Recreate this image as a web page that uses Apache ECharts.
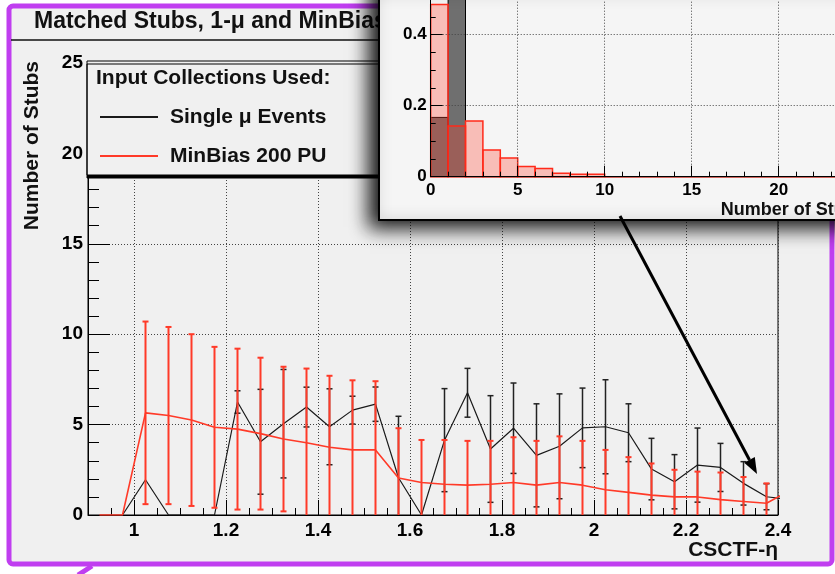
<!DOCTYPE html>
<html><head><meta charset="utf-8">
<script src="https://cdn.jsdelivr.net/npm/echarts@6/dist/echarts.min.js"></script>
<style>html,body{margin:0;padding:0;background:#fff}#c{width:835px;height:574px}</style>
</head><body><div id="c"></div><script>
// ---- main panel data (CSCTF eta bins, width 0.05) ----
const etaCenters = [0.925,0.975,1.025,1.075,1.125,1.175,1.225,1.275,1.325,1.375,1.425,1.475,1.525,1.575,1.625,1.675,1.725,1.775,1.825,1.875,1.925,1.975,2.025,2.075,2.125,2.175,2.225,2.275,2.325,2.375,2.425];
const singleMu    = [null,0,1.95,0,0,0,6.25,4.05,5.05,5.97,4.88,5.8,6.13,2.06,0,4.14,6.76,3.65,4.8,3.3,3.8,4.82,4.88,4.55,2.54,1.84,2.76,2.63,1.75,1.01,0.85];
const singleMuErr = [0,0,0,0,0,0,0.62,2.9,3.0,1.1,2.1,0.77,0.95,3.4,0,2.85,1.35,2.95,2.5,2.85,2.9,2.2,2.6,1.6,1.7,1.5,2.05,1.33,1.2,0.72,0];
const minBias     = [0,0,5.65,5.5,5.25,4.85,4.75,4.5,4.2,4.0,3.75,3.6,3.6,2.05,1.8,1.7,1.65,1.7,1.8,1.65,1.8,1.65,1.4,1.25,1.1,1.0,1.0,0.85,0.75,0.65,1.35];
const minBiasErr  = [0,0,5.05,4.9,4.75,4.45,4.45,4.2,4.0,4.1,3.95,3.85,3.8,2.75,2.35,2.45,2.45,2.4,2.5,2.45,2.55,2.45,2.2,1.95,1.75,1.5,1.4,1.5,1.35,1.1,0];
const etaTickLabels = [1,1.2,1.4,1.6,1.8,2.0,2.2,2.4];
const seriesNames = ['Single \u03bc Events','MinBias 200 PU'];

// ---- inset data (number of stubs, normalised) ----
const stubBinLow  = [0,1,2,3,4,5,6,7,8,9,10,11,12,13,14,15,16,17,18,19,20,21,22,23,24];
const stubBinHigh = [1,2,3,4,5,6,7,8,9,10,11,12,13,14,15,16,17,18,19,20,21,22,23,24,25];
const stubsMinBias  = [0.485,0.143,0.157,0.075,0.053,0.029,0.023,0.010,0.007,0.007,0,0,0,0,0,0,0,0,0,0,0,0,0,0,0];
const stubsSingleMu = [0.167,0.833,0,0,0,0,0,0,0,0,0,0,0,0,0,0,0,0,0,0,0,0,0,0,0];

const FONT = '"Liberation Sans", Arial, Helvetica, sans-serif';
const Y_MIN = 0, Y_MAX = 25;
const RED = '#ff3a28', BLACK = '#1a1a1a';

function errRender(color, w) {
  return function (params, api) {
    const x = api.value(0), v = api.value(1), e = api.value(2);
    const kids = [];
    if (e > 0 && v != null && !isNaN(v)) {
      const lo = Math.max(Y_MIN, v - e), hi = Math.min(Y_MAX, v + e);
      const pLo = api.coord([x, lo]), pHi = api.coord([x, hi]);
      const st = {stroke: color, lineWidth: w};
      kids.push({type:'line', shape:{x1:pLo[0],y1:pLo[1],x2:pHi[0],y2:pHi[1]}, style:st});
      if (v + e <= Y_MAX) kids.push({type:'line', shape:{x1:pHi[0]-3,y1:pHi[1],x2:pHi[0]+3,y2:pHi[1]}, style:st});
      if (v - e >= Y_MIN) kids.push({type:'line', shape:{x1:pLo[0]-3,y1:pLo[1],x2:pLo[0]+3,y2:pLo[1]}, style:st});
    }
    return {type:'group', children:kids};
  };
}
function histRender(fill, stroke, lw) {
  return function (params, api) {
    const p0 = api.coord([api.value(0), 0]);
    const p1 = api.coord([api.value(1), api.value(2)]);
    return {type:'rect', shape:{x:p0[0], y:p1[1], width:p1[0]-p0[0], height:p0[1]-p1[1]},
            style:{fill:fill, stroke:stroke, lineWidth:lw}};
  };
}
const mk = (xs, ys) => xs.map((x,i) => [x, ys[i]]);
const mkE = (xs, ys, es) => xs.map((x,i) => [x, ys[i], es[i]]);
const mkH = (vals) => stubBinLow.map((lo,i) => [lo, stubBinHigh[i], vals[i]]);

const chart = echarts.init(document.getElementById('c'), null, {renderer:'canvas'});
const tickLbl = {color:'#000', fontFamily:FONT, fontWeight:'bold', fontSize:19};
const dotted = {show:true, lineStyle:{color:'#444', type:[1,2], width:1}};

chart.setOption({
  animation:false,
  backgroundColor:'#fff',
  title:[
    {text:'Matched Stubs, 1-\u03bc and MinBias 200 PU', left:34, top:10, padding:0,
     textStyle:{fontFamily:FONT, fontWeight:'bold', fontSize:23, color:'#111'}},
    {text:'Input Collections Used:', left:96, top:68, padding:0,
     textStyle:{fontFamily:FONT, fontWeight:'bold', fontSize:21, color:'#111'}}
  ],
  legend:{
    data:seriesNames, orient:'vertical', left:87, top:61,
    padding:[44,230,7,13], itemGap:15, itemWidth:58, itemHeight:2, icon:'rect',
    backgroundColor:'#f0f0f0', borderColor:'#000', borderWidth:1,
    shadowColor:'#000', shadowBlur:0, shadowOffsetX:0, shadowOffsetY:3,
    textStyle:{fontFamily:FONT, fontWeight:'bold', fontSize:21, color:'#111', lineHeight:24, padding:[0,0,0,7]},
    selectedMode:false
  },
  grid:[
    {left:88, right:57, top:63, bottom:59, show:true, borderColor:'#000', borderWidth:1, backgroundColor:'transparent', outerBoundsMode:'none'},
    {left:430.7, right:-30.7, top:-178.3, bottom:397.3, show:false, outerBoundsMode:'none'}
  ],
  xAxis:[
    {type:'value', gridIndex:0, position:'bottom', min:0.9, max:2.4,
     name:'CSCTF-\u03b7', nameLocation:'end', nameGap:0, nameMoveOverlap:false,
     nameTextStyle:{fontFamily:FONT, fontWeight:'bold', fontSize:21, color:'#111', align:'right', verticalAlign:'top', padding:[25,0,0,0]},
     axisLine:{show:true, lineStyle:{color:'#000', width:1}},
     axisTick:{show:true, inside:true, length:15, customValues:etaTickLabels, lineStyle:{color:'#000'}},
     axisLabel:{...tickLbl, margin:6, customValues:etaTickLabels},
     splitLine:dotted, minorTick:{show:false}},
    {type:'value', gridIndex:0, position:'bottom', min:0.9, max:2.4, interval:0.05,
     axisLine:{show:false}, axisLabel:{show:false}, splitLine:{show:false},
     axisTick:{show:true, inside:true, length:7, lineStyle:{color:'#000'}}},
    {type:'value', gridIndex:1, position:'bottom', min:0, max:25, interval:5, z:24,
     name:'Number of Stubs', nameLocation:'end', nameGap:0, nameMoveOverlap:false,
     nameTextStyle:{fontFamily:FONT, fontWeight:'bold', fontSize:18, color:'#111', align:'right', verticalAlign:'top', padding:[24,0,0,0]},
     axisLine:{show:true, lineStyle:{color:'#000'}},
     axisTick:{show:true, inside:true, length:11, lineStyle:{color:'#000'}},
     minorTick:{show:true, splitNumber:5, length:5, lineStyle:{color:'#000'}},
     axisLabel:{...tickLbl, fontSize:17, margin:5},
     splitLine:dotted}
  ],
  yAxis:[
    {type:'value', gridIndex:0, min:0, max:25, interval:5,
     name:'Number of Stubs', nameLocation:'end', nameRotate:90, nameGap:2, nameMoveOverlap:false,
     nameTextStyle:{fontFamily:FONT, fontWeight:'bold', fontSize:21, color:'#111', align:'right', verticalAlign:'bottom', padding:[0,0,45,0]},
     axisLine:{show:true, lineStyle:{color:'#000'}},
     axisTick:{show:true, inside:true, length:22, lineStyle:{color:'#000'}},
     minorTick:{show:true, splitNumber:5, length:11, lineStyle:{color:'#000'}},
     axisLabel:{...tickLbl, margin:5},
     splitLine:dotted},
    {type:'value', gridIndex:1, min:0, max:1, interval:0.2, z:24,
     axisLine:{show:true, lineStyle:{color:'#000'}},
     axisTick:{show:true, inside:true, length:12, lineStyle:{color:'#000'}},
     minorTick:{show:true, splitNumber:4, length:5, lineStyle:{color:'#000'}},
     axisLabel:{...tickLbl, fontSize:17, margin:4},
     splitLine:dotted}
  ],
  graphic:[
    {type:'rect', z:-1, silent:true, shape:{x:9, y:6, width:823, height:558, r:4},
     style:{fill:'#f0f0f0', stroke:'#c03ef0', lineWidth:5}},
    {type:'line', z:1, silent:true, shape:{x1:11, y1:40, x2:420, y2:40}, style:{stroke:'#111', lineWidth:1.5}},
    {type:'line', z:1, silent:true, shape:{x1:78, y1:575, x2:92, y2:566}, style:{stroke:'#c03ef0', lineWidth:5}},
    {type:'rect', z:20, silent:true, shape:{x:379, y:-20, width:520, height:240},
     style:{fill:'#f5f5f5', stroke:'#000', lineWidth:2, shadowBlur:18, shadowColor:'rgba(0,0,0,0.95)', shadowOffsetX:-9, shadowOffsetY:7}},
    {type:'line', z:30, silent:true, shape:{x1:620, y1:216, x2:749.5, y2:460}, style:{stroke:'#000', lineWidth:3}},
    {type:'polygon', z:30, silent:true, shape:{points:[[757,474],[744.2,462.7],[754.8,457.1]]}, style:{fill:'#000'}}
  ],
  series:[
    {name:seriesNames[0], type:'line', xAxisIndex:0, yAxisIndex:0, z:2, data:mk(etaCenters, singleMu),
     showSymbol:false, symbol:'none', itemStyle:{color:BLACK}, lineStyle:{color:BLACK, width:1.2}},
    {name:'Single \u03bc errors', type:'custom', xAxisIndex:0, yAxisIndex:0, z:2,
     data:mkE(etaCenters, singleMu, singleMuErr), encode:{x:0, y:1}, renderItem:errRender('#222', 1.5)},
    {name:seriesNames[1], type:'line', xAxisIndex:0, yAxisIndex:0, z:3, data:mk(etaCenters, minBias),
     showSymbol:false, symbol:'none', itemStyle:{color:RED}, lineStyle:{color:RED, width:1.6}},
    {name:'MinBias errors', type:'custom', xAxisIndex:0, yAxisIndex:0, z:3,
     data:mkE(etaCenters, minBias, minBiasErr), encode:{x:0, y:1}, renderItem:errRender(RED, 2)},
    {name:'Single \u03bc stubs', type:'custom', xAxisIndex:2, yAxisIndex:1, z:22,
     data:mkH(stubsSingleMu), encode:{x:[0,1], y:2}, renderItem:histRender('rgba(0,0,0,0.55)', '#000', 1)},
    {name:'MinBias stubs', type:'custom', xAxisIndex:2, yAxisIndex:1, z:23,
     data:mkH(stubsMinBias), encode:{x:[0,1], y:2}, renderItem:histRender('rgba(255,60,40,0.3)', '#ff2a1a', 1.5)}
  ]
});
</script></body></html>
